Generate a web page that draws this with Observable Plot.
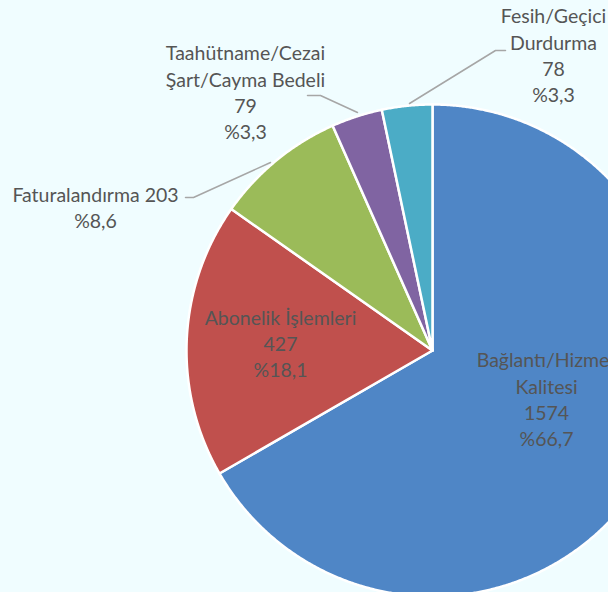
<!DOCTYPE html>
<html><head><meta charset="utf-8">
<script src="https://cdn.jsdelivr.net/npm/d3@7"></script>
<script src="https://cdn.jsdelivr.net/npm/@observablehq/plot@0.6"></script>
<style>
html,body{margin:0;padding:0;background:#F0FDFF;overflow:hidden;}
#chart{width:608px;height:592px;overflow:hidden;}
</style></head><body><div id="chart"></div>
<script>
// ---- data ----
const categories = ["Bağlantı/Hizmet Kalitesi","Abonelik İşlemleri","Faturalandırma","Taahütname/Cezai Şart/Cayma Bedeli","Fesih/Geçici Durdurma"];
const values = [1574, 427, 203, 79, 78];
const nameLines = ["Bağlantı/Hizmet\nKalitesi","Abonelik İşlemleri","Faturalandırma","Taahütname/Cezai\nŞart/Cayma Bedeli","Fesih/Geçici\nDurdurma"];
const nameSep = ["\n","\n"," ","\n","\n"];
const colors = ["#4F86C6","#C0504D","#9BBB59","#8064A2","#4BACC6"];

// ---- layout (pixels) ----
const W = 608, H = 592, CX = 432, CY = 350, R = 246;
const labelPos = [[546,398],[280,342],[95,206],[245,91],[553,54]];
const leaderPts = [[],[],[[185,197],[193,197],[270,162]],[[307,95],[320,95],[357,112]],[[409,103],[495,50],[505,50]]];

const px2x = p => (p - CX) / R;
const py2y = p => (CY - p) / R;

const total = d3.sum(values);
const pct = v => "%" + (v / total * 100).toFixed(1).replace(".", ",");

const arcs = d3.pie().sort(null).value(d => d)(values);
const slicePts = [];
arcs.forEach((a, i) => {
  slicePts.push({k: categories[i], x: 0, y: 0});
  const n = Math.max(4, Math.ceil((a.endAngle - a.startAngle) / 0.005));
  for (let j = 0; j <= n; j++) {
    const t = a.startAngle + (a.endAngle - a.startAngle) * j / n;
    slicePts.push({k: categories[i], x: Math.sin(t), y: Math.cos(t)});
  }
});

const labels = categories.map((c, i) => ({
  x: px2x(labelPos[i][0]), y: py2y(labelPos[i][1]),
  text: nameLines[i] + nameSep[i] + values[i] + "\n" + pct(values[i])
}));
const leaders = [];
leaderPts.forEach((pts, i) => pts.forEach(p => leaders.push({k: categories[i], x: px2x(p[0]), y: py2y(p[1])})));

const chart = Plot.plot({
  width: W, height: H, margin: 0,
  x: {domain: [px2x(0), px2x(W)], axis: null},
  y: {domain: [py2y(H), py2y(0)], axis: null},
  color: {domain: categories, range: colors},
  style: {background: "transparent", fontFamily: "Lato, sans-serif"},
  marks: [
    Plot.line(slicePts, {x: "x", y: "y", z: "k", fill: "k", stroke: "white", strokeWidth: 2.5, strokeLinejoin: "round", curve: "linear-closed"}),
    Plot.line(leaders, {x: "x", y: "y", z: "k", stroke: "#A6A6A6", strokeWidth: 1.5}),
    Plot.text(labels, {x: "x", y: "y", text: "text", fontSize: 19.5, lineHeight: 1.35, fill: "#555555", fontFamily: "Lato, sans-serif"})
  ]
});
document.getElementById("chart").appendChild(chart);
</script></body></html>
